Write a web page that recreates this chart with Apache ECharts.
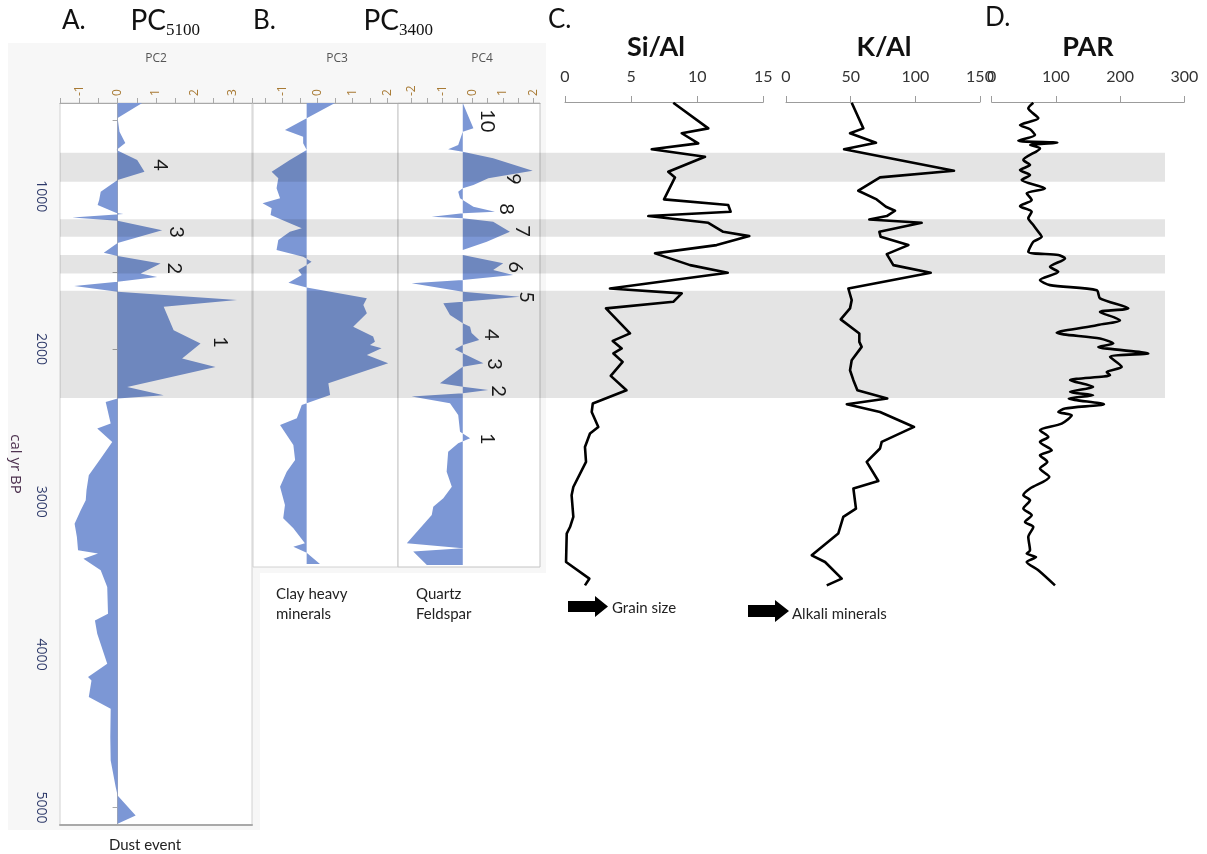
<!DOCTYPE html>
<html>
<head>
<meta charset="utf-8">
<script src="https://cdn.jsdelivr.net/npm/echarts@6/dist/echarts.min.js"></script>
<style>
  html, body { margin: 0; padding: 0; background: #fff; }
  #chart { width: 1207px; height: 854px; }
</style>
</head>
<body>
<div id="chart"></div>
<script>
// ---- Ages are cal yr BP, values are PC scores / ratios ----

// A. PC2 of the 5100-yr record
const pc2Age = [390,488,578,652,698,763,840,894,971,1025,1058,1110,1117,1139,1161,1222,1307,1370,1392,1440,1505,1528,1560,1587,1626,1680,1724,1877,1964,2062,2117,2248,2302,2324,2346,2488,2520,2608,2717,2826,2925,2990,3055,3143,3230,3317,3339,3372,3448,3558,3732,3776,3863,4059,4147,4169,4278,4354,4540,4693,4867,4922,5053,5107];
const pc2Val = [0.64,0,0.05,0.2,-0.03,0.51,0.70,0,-0.44,-0.48,-0.52,-0.03,0.15,-1.18,0,1.16,0,-0.36,0,1.12,0.6,1.03,0,-1.13,0,3.11,1.2,1.46,2.16,1.68,2.55,0.25,1.2,0,-0.31,-0.18,-0.53,-0.14,-0.44,-0.75,-0.81,-0.83,-0.96,-1.12,-1.06,-1.03,-0.51,-0.89,-0.44,-0.27,-0.25,-0.59,-0.53,-0.27,-0.77,-0.68,-0.75,-0.18,-0.19,-0.18,-0.05,0,0.47,0];
const pc2Base = 0;
const pc2NoteText = ['4','3','2','1'];
const pc2NoteVal = [1.12,1.53,1.48,2.68];
const pc2NoteAge = [796,1235,1471,1955];

// B. PC3 and PC4 of the 3400-yr record
const pc3Age = [390,490,567,611,654,698,763,840,883,949,1014,1047,1080,1124,1178,1211,1233,1287,1353,1397,1429,1451,1484,1516,1567,1598,1669,1713,1767,1855,1920,1953,1975,1997,2040,2095,2226,2302,2357,2368,2455,2499,2630,2728,2805,2903,3023,3110,3175,3274,3296,3335,3409];
const pc3Val = [0.5,-0.31,-0.93,-0.41,-0.41,-0.31,-0.79,-1.31,-1.12,-1.17,-1.07,-1.57,-1.31,-1.34,-0.79,-0.45,-0.79,-1.12,-1.17,-0.41,-0.17,-0.31,-0.55,-0.45,-0.83,-0.31,1.41,1.31,1.41,1.02,1.59,1.64,1.5,1.83,1.41,2.02,0.31,0.36,-0.31,-0.45,-0.59,-1.07,-0.69,-0.64,-0.88,-1.07,-0.93,-0.98,-0.69,-0.36,-0.69,-0.31,0.07];
const pc3Base = -0.31;

const pc4Age = [390,556,578,665,693,709,752,833,883,927,949,971,1014,1025,1069,1102,1112,1135,1145,1167,1233,1298,1353,1385,1440,1484,1516,1549,1571,1626,1659,1691,1702,1778,1833,1855,1896,1942,1975,2003,2029,2095,2117,2226,2248,2270,2291,2313,2357,2433,2543,2586,2619,2674,2805,2903,2979,3034,3088,3274,3306,3328,3416];
const pc4Val = [-0.32,0.03,-0.32,-0.47,-0.8,-0.32,0.68,1.98,0.52,0.03,-0.32,-0.47,-0.41,-0.32,0.03,0.74,-0.32,-1.34,-0.32,0.68,1.23,0.47,-0.32,-0.32,1.01,0.68,1.34,-0.32,-2.0,-0.32,1.56,-0.32,-0.96,-0.74,-0.32,-0.08,-0.03,0.22,-0.32,-0.58,-0.32,0.36,-0.32,-1.07,-0.32,0.52,-0.32,-2.0,-0.74,-0.47,-0.41,-0.08,-0.47,-0.8,-0.85,-0.68,-0.96,-1.29,-1.34,-2.16,-0.32,-1.95,-1.5];
const pc4Base = -0.32;
const pc4NoteText = ['10','9','8','7','6','5','4','3','2','1'];
const pc4NoteVal = [0.49,1.34,1.13,1.64,1.40,1.76,0.61,0.71,0.87,0.49];
const pc4NoteAge = [507,888,1084,1228,1464,1661,1909,2099,2276,2590];

// C. Element ratios
const siAlAge = [388,556,588,654,693,742,840,877,1021,1058,1102,1130,1174,1233,1261,1320,1374,1451,1501,1604,1636,1691,1734,1898,1947,1996,2029,2084,2176,2270,2357,2412,2510,2553,2641,2739,2903,2957,3099,3165,3208,3394,3503,3547];
const siAlVal = [8.19,10.84,8.83,10.08,6.56,10.59,7.81,8.32,7.49,12.35,12.53,6.30,10.84,11.97,13.94,11.47,6.81,9.46,12.31,3.40,8.83,8.19,3.10,4.92,3.61,4.29,3.66,4.36,3.46,4.65,2.10,2.02,2.52,1.89,1.51,1.59,0.63,0.5,0.63,0.38,0.13,0.08,1.84,1.51];

const kAlAge = [388,556,588,650,693,833,877,964,1021,1069,1095,1130,1152,1174,1233,1266,1320,1379,1451,1501,1604,1680,1734,1806,1898,1953,1986,2073,2139,2204,2270,2324,2361,2412,2510,2608,2651,2739,2864,2913,3044,3099,3208,3350,3394,3503,3547];
const kAlVal = [50.8,59.8,49.5,69.6,44.9,129.9,72.7,55.9,70.1,77.3,84.3,77.9,64.4,104.9,72.2,73.2,94.6,77.9,83.0,111.9,48.2,50.8,49.5,42.3,56.7,56.7,58.5,50.8,49.5,52.1,55.2,78.3,47.0,72.7,99.0,74.0,72.7,62.4,71.4,52.1,54.1,44.3,40.4,19.9,30.2,43.1,31.5];

// D. Pollen accumulation rate
const parAge = [388,425,490,534,562,600,637,650,665,687,763,796,829,862,894,949,981,1025,1065,1102,1145,1189,1233,1266,1298,1364,1385,1407,1462,1495,1549,1582,1615,1669,1734,1757,1811,1844,1894,1931,1964,1986,2029,2051,2117,2150,2171,2204,2248,2281,2302,2324,2361,2389,2412,2434,2488,2531,2575,2608,2663,2695,2739,2782,2837,2913,2957,2990,3044,3088,3132,3165,3230,3317,3339,3361,3394,3448,3547];
const parVal = [64.8,57.0,72.6,44.1,59.7,67.4,41.5,102.2,60,75.2,49.3,59.7,44.1,59.7,46.7,83.0,54.5,62.3,44.1,62.3,57.0,64.8,72.6,77.9,64.8,57.0,103.7,114.2,90.8,103.7,75.2,90.8,163.6,168.7,212.8,168.7,199.8,163.6,101.2,168.7,189.4,166.1,243.9,184.3,202.5,179.1,184.3,122,158,122,158,120,174.9,114.2,103.7,124.6,109,75.2,88.2,75.2,93.5,75.2,86.6,75.2,89.7,59.7,49.3,59.7,49.3,62.3,51.9,64.8,57.0,59.7,54.5,69,54.5,72.6,98.6];

// Dust events (shaded intervals)
const bandStart = [715,1150,1385,1619];
const bandEnd = [905,1266,1505,2320];

// Axis ticks and labels
const pc2Ticks = [-1.5,-1,-0.5,0,0.5,1,1.5,2,2.5,3,3.5];
const pc2Labels = [-1,0,1,2,3];
const pc3Ticks = [-1.5,-1,-0.5,0,0.5,1,1.5,2];
const pc3Labels = [-1,0,1,2];
const pc4Ticks = [-2,-1.5,-1,-0.5,0,0.5,1,1.5,2];
const pc4Labels = [-2,-1,0,1,2];
const ageTicks = [500,1000,1500,2000,2500,3000,3500,4000,4500,5000];
const ageLabels = [1000,2000,3000,4000,5000];

// ---- Styling ----
const AREA = 'rgb(124,151,213)';
const SANS = 'Lato, "Open Sans", sans-serif';
const UI = '"Open Sans", "Noto Sans", sans-serif';
const SERIF = '"Liberation Serif", "DejaVu Serif", serif';
const AGE_MIN = 390, AGE_MAX = 5115, AGE_MAX_B = 3429;
const TICK_LBL = '#a87a34';

const chart = echarts.init(document.getElementById('chart'), null, { renderer: 'canvas' });

function areaSeries(xi, yi, ages, vals, base) {
  return {
    type: 'custom', xAxisIndex: xi, yAxisIndex: yi, z: 2, silent: true,
    data: ages.map((a, i) => [vals[i], a]),
    encode: { x: 0, y: 1 },
    renderItem: (params, api) => {
      if (params.dataIndex !== 0) return null;
      const pts = [api.coord([base, ages[0]])];
      for (let i = 0; i < ages.length; i++) pts.push(api.coord([vals[i], ages[i]]));
      pts.push(api.coord([base, ages[ages.length - 1]]));
      return { type: 'polygon', shape: { points: pts }, style: { fill: AREA } };
    }
  };
}

function noteSeries(xi, yi, texts, vals, ages) {
  return {
    type: 'custom', xAxisIndex: xi, yAxisIndex: yi, z: 6, silent: true,
    data: ages.map((a, i) => [vals[i], a]),
    encode: { x: 0, y: 1 },
    renderItem: (params, api) => {
      const p = api.coord([api.value(0), api.value(1)]);
      return {
        type: 'text', x: p[0], y: p[1], rotation: -Math.PI / 2,
        style: {
          text: texts[params.dataIndex], x: 0, y: 0,
          fontSize: 20, fontFamily: SANS, fill: '#1a1a1a',
          align: 'center', verticalAlign: 'middle',
          textAlign: 'center', textVerticalAlign: 'middle'
        }
      };
    }
  };
}

function lineSeries(xi, yi, ages, vals, smooth) {
  return {
    type: 'line', xAxisIndex: xi, yAxisIndex: yi, z: 3, silent: true,
    data: ages.map((a, i) => [vals[i], a]),
    showSymbol: false, smooth: smooth,
    lineStyle: { color: '#000', width: 2.6, join: 'round' }
  };
}

function pcTopAxis(grid, min, max, ticks, labels) {
  return {
    type: 'value', gridIndex: grid, position: 'top', min: min, max: max,
    axisLine: { show: true, lineStyle: { color: '#a9a9a9', width: 1 } },
    axisTick: { show: true, length: 5, customValues: ticks, lineStyle: { color: '#a9a9a9' } },
    axisLabel: { show: true, rotate: -90, margin: 7, customValues: labels,
      color: TICK_LBL, fontSize: 12, fontFamily: UI },
    splitLine: { show: false }
  };
}

function ratioTopAxis(grid, max, step) {
  return {
    type: 'value', gridIndex: grid, position: 'top', min: 0, max: max, interval: step, offset: 1,
    axisLine: { show: true, lineStyle: { color: '#9c9c9c', width: 1 } },
    axisTick: { show: true, length: 6, lineStyle: { color: '#9c9c9c' } },
    axisLabel: { show: true, margin: 17, color: '#333', fontSize: 16, fontFamily: SANS },
    splitLine: { show: false }
  };
}

function hiddenAge(grid, max) {
  return { type: 'value', gridIndex: grid, min: AGE_MIN, max: max, inverse: true, show: false };
}

function label(x, y, text, size, extra) {
  return Object.assign({ type: 'text', x: x, y: y, silent: true,
    style: Object.assign({ text: text, fontSize: size, fontFamily: SANS, fill: '#111',
      textVerticalAlign: 'middle', verticalAlign: 'middle' }, extra || {}) });
}

const frame = { show: true, backgroundColor: '#fff', borderColor: '#d2d2d2', borderWidth: 1, outerBoundsMode: 'none' };
const centred = { textAlign: 'center', align: 'center' };
const rightEnd = { textAlign: 'right', align: 'right' };

const option = {
  animation: false,
  backgroundColor: '#fff',
  grid: [
    Object.assign({ left: 60, top: 103, width: 192, height: 722 }, frame),
    Object.assign({ left: 253, top: 103, width: 145, height: 464 }, frame),
    Object.assign({ left: 398, top: 103, width: 142, height: 464 }, frame, { borderColor: '#c4c4c4' }),
    { left: 565, top: 103, width: 198.3, height: 722, show: false, outerBoundsMode: 'none' },
    { left: 786, top: 103, width: 194, height: 722, show: false, outerBoundsMode: 'none' },
    { left: 991.7, top: 103, width: 192.6, height: 722, show: false, outerBoundsMode: 'none' },
    { left: 60, top: 103, width: 1105, height: 722, show: false, outerBoundsMode: 'none' }
  ],
  xAxis: [
    pcTopAxis(0, -1.5, 3.5, pc2Ticks, pc2Labels),
    { type: 'value', gridIndex: 0, position: 'bottom', min: -1.5, max: 3.5,
      axisLine: { show: true, lineStyle: { color: '#a9a9a9', width: 2 } },
      axisTick: { show: false }, axisLabel: { show: false }, splitLine: { show: false } },
    pcTopAxis(1, -1.843, 2.3, pc3Ticks, pc3Labels),
    pcTopAxis(2, -2.45, 2.22, pc4Ticks, pc4Labels),
    ratioTopAxis(3, 15, 5),
    ratioTopAxis(4, 150, 50),
    ratioTopAxis(5, 300, 100),
    { type: 'value', gridIndex: 6, min: 0, max: 1, show: false }
  ],
  yAxis: [
    {
      type: 'value', gridIndex: 0, min: AGE_MIN, max: AGE_MAX, inverse: true,
      name: 'cal yr BP', nameLocation: 'middle', nameRotate: -90, nameGap: 37,
      nameTextStyle: { color: '#4b2f4d', fontSize: 15, fontFamily: UI },
      axisLine: { show: true, lineStyle: { color: '#a9a9a9', width: 1 } },
      axisTick: { show: true, length: 5, customValues: ageTicks, lineStyle: { color: '#a9a9a9' } },
      axisLabel: { show: true, rotate: -90, margin: 12, customValues: ageLabels,
        formatter: v => String(v), color: '#2e3a6a', fontSize: 14, fontFamily: UI },
      splitLine: { show: false }
    },
    hiddenAge(1, AGE_MAX_B),
    hiddenAge(2, AGE_MAX_B),
    hiddenAge(3, AGE_MAX),
    hiddenAge(4, AGE_MAX),
    hiddenAge(5, AGE_MAX),
    hiddenAge(6, AGE_MAX)
  ],
  series: [
    areaSeries(0, 0, pc2Age, pc2Val, pc2Base),
    areaSeries(2, 1, pc3Age, pc3Val, pc3Base),
    areaSeries(3, 2, pc4Age, pc4Val, pc4Base),
    noteSeries(0, 0, pc2NoteText, pc2NoteVal, pc2NoteAge),
    noteSeries(3, 2, pc4NoteText, pc4NoteVal, pc4NoteAge),
    lineSeries(4, 3, siAlAge, siAlVal, false),
    lineSeries(5, 4, kAlAge, kAlVal, false),
    lineSeries(6, 5, parAge, parVal, 0.25),
    {
      // shaded dust-event intervals across all panels
      type: 'custom', xAxisIndex: 7, yAxisIndex: 6, z: 5, silent: true,
      data: bandStart.map((s, i) => [s, bandEnd[i]]),
      renderItem: (params, api) => {
        const a = api.coord([0, api.value(0)]);
        const b = api.coord([1, api.value(1)]);
        return { type: 'rect', shape: { x: a[0], y: a[1], width: b[0] - a[0], height: b[1] - a[1] },
          style: { fill: 'rgba(0,0,0,0.105)' } };
      }
    }
  ],
  graphic: [
    // panel backgrounds
    { type: 'rect', z: -10, silent: true, shape: { x: 8, y: 43, width: 538, height: 530 }, style: { fill: '#f7f7f7' } },
    { type: 'rect', z: -10, silent: true, shape: { x: 8, y: 573, width: 252, height: 257 }, style: { fill: '#f7f7f7' } },
    // headings
    label(62, 21, 'A.', 26),
    label(166, 21, 'PC', 28, rightEnd),
    label(166, 31, '5100', 17, { fontFamily: SERIF }),
    label(253, 21, 'B.', 26),
    label(399, 21, 'PC', 28, rightEnd),
    label(399, 31, '3400', 17, { fontFamily: SERIF }),
    label(548, 20, 'C.', 26),
    label(985, 18, 'D.', 26),
    label(656, 47, 'Si/Al', 27, Object.assign({ fontWeight: 'bold' }, centred)),
    label(884, 47, 'K/Al', 27, Object.assign({ fontWeight: 'bold' }, centred)),
    label(1088, 47, 'PAR', 27, Object.assign({ fontWeight: 'bold' }, centred)),
    // axis titles of the PC panels
    label(156, 59, 'PC2', 12, Object.assign({ fontFamily: UI, fill: '#555' }, centred)),
    label(337, 59, 'PC3', 12, Object.assign({ fontFamily: UI, fill: '#555' }, centred)),
    label(482, 59, 'PC4', 12, Object.assign({ fontFamily: UI, fill: '#555' }, centred)),
    // captions
    label(145, 845, 'Dust event', 15, Object.assign({ fill: '#222' }, centred)),
    label(276, 604, 'Clay heavy\nminerals', 15, { fill: '#222', lineHeight: 20 }),
    label(416, 604, 'Quartz\nFeldspar', 15, { fill: '#222', lineHeight: 20 }),
    { type: 'polygon', silent: true, shape: { points: [[568,601],[595,601],[595,596],[608,606.5],[595,617],[595,612],[568,612]] }, style: { fill: '#000' } },
    label(612, 608, 'Grain size', 15, { fill: '#222' }),
    { type: 'polygon', silent: true, shape: { points: [[748,605],[775,605],[775,600],[789,611],[775,622],[775,617],[748,617]] }, style: { fill: '#000' } },
    label(792, 614, 'Alkali minerals', 15, { fill: '#222' })
  ]
};

chart.setOption(option);
</script>
</body>
</html>
